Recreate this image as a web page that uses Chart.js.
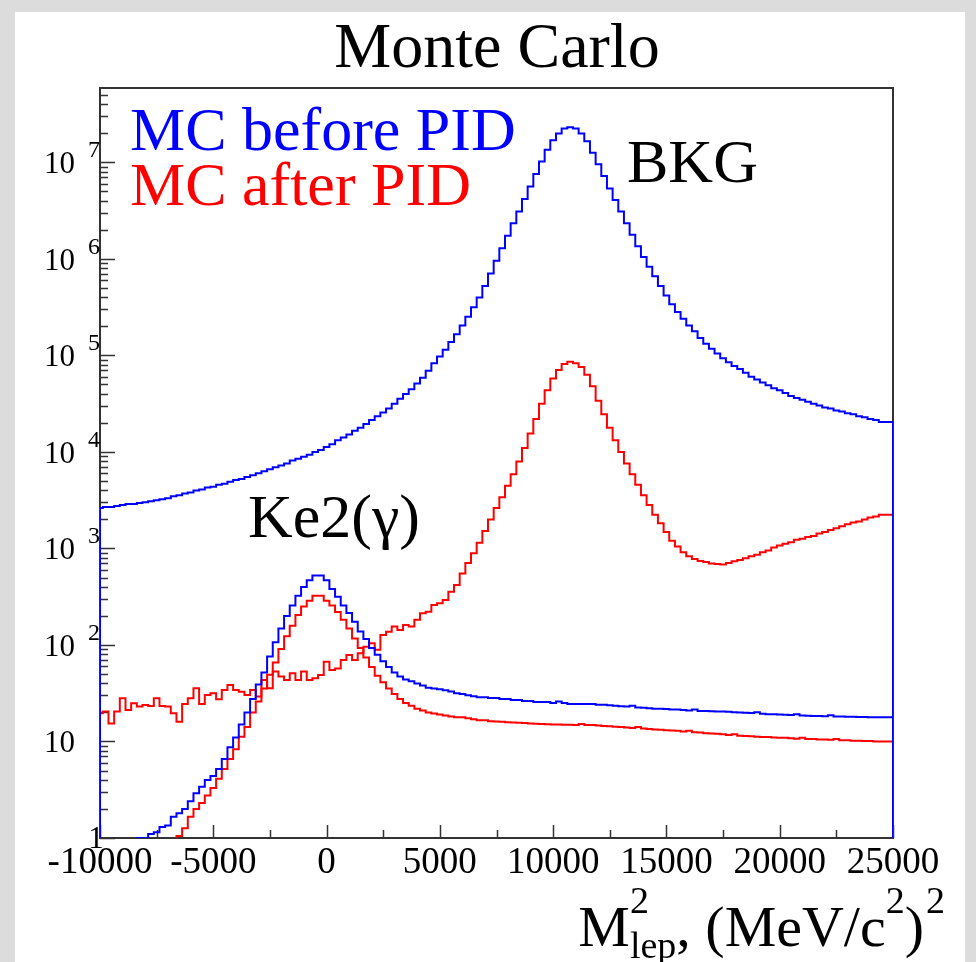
<!DOCTYPE html>
<html>
<head>
<meta charset="utf-8">
<script src="https://cdn.jsdelivr.net/npm/chart.js@4.4.1/dist/chart.umd.min.js"></script>
<style>
  html, body { margin: 0; padding: 0; background: #dcdcdc; }
  canvas { display: block; }
</style>
</head>
<body>
<canvas id="chart" width="976" height="962" style="width:976px;height:962px"></canvas>
<script>
// ── Data (bins of 250, starting at -10000) ─────────────────
const xMin = -10000;
const xMax = 25000;
const binWidth = 250;

// BKG, MC before PID (blue)
const bkgBefore = [
  2570, 2630, 2690, 2690, 2750, 2820, 2880, 2880, 2950, 3020,
  3090, 3160, 3240, 3310, 3470, 3550, 3720, 3800, 3980, 4070,
  4270, 4370, 4570, 4680, 4900, 5130, 5250, 5500, 5750, 6030,
  6310, 6610, 6920, 7240, 7590, 8130, 8510, 8910, 9330, 10000,
  10470, 11220, 12020, 13180, 14130, 15140, 16600, 17780, 19500, 21380,
  23440, 25700, 28180, 31620, 35480, 39810, 44670, 51290, 58880, 69180,
  83180, 97720, 114800, 138000, 166000, 204200, 251200, 316200, 398100, 524800,
  707900, 955000, 1288000, 1738000, 2344000, 3090000, 4169000, 5623000, 7586000, 10230000,
  13490000, 16980000, 19950000, 22390000, 23170000, 22390000, 19950000, 16600000, 12590000, 9550000,
  7244000, 5370000, 4074000, 3090000, 2344000, 1778000, 1349000, 1047000, 831800, 660700,
  524800, 416900, 338800, 281800, 239900, 204200, 177800, 151400, 131800, 117500,
  104700, 93330, 85110, 77620, 72440, 66070, 60260, 56230, 52480, 48980,
  45710, 43650, 40740, 38020, 36310, 34670, 33110, 31620, 30200, 28840,
  28180, 26920, 26300, 25120, 24550, 23440, 22910, 21880, 21380, 20420,
];

// BKG, MC after PID (red)
const bkgAfter = [
  20.4, 19.6, 20.4, 15.4, 20.4, 28, 21.2, 24.9, 23, 23.9,
  23.3, 28, 23.3, 23, 19.6, 16, 24.5, 28, 35.6, 24.5,
  30.3, 31.6, 27.4, 34.2, 38.5, 34.2, 32.8, 30.3, 34.2, 29.2,
  43.4, 35.6, 53, 47, 43.4, 50.8, 43.4, 53, 43.4, 45.2,
  48.9, 67, 55, 57, 70, 78.7, 70, 82, 96, 104,
  89, 127, 137, 155, 143, 161, 155, 182, 213, 221,
  260, 270, 293, 357, 419, 550, 708, 891, 1148, 1514,
  1995, 2630, 3390, 4470, 5890, 7940, 10960, 15490, 21880, 31620,
  43650, 57540, 70790, 81280, 86100, 83180, 75860, 63100, 47860, 33880,
  24550, 17780, 13180, 10000, 7590, 5890, 4570, 3550, 2820, 2240,
  1820, 1480, 1200, 1047, 912, 832, 776, 741, 724, 700,
  692, 680, 708, 735, 759, 794, 832, 860, 912, 955,
  1023, 1072, 1122, 1160, 1230, 1259, 1318, 1349, 1430, 1479,
  1549, 1622, 1698, 1778, 1862, 1905, 1995, 2089, 2138, 2239,
];

// Ke2(gamma), MC before PID (blue)
const ke2Before = [
  0, 0, 0, 0, 0, 0, 0, 0, 1, 1,
  1.1, 1.15, 1.3, 1.35, 1.66, 1.8, 2.0, 2.4, 2.9, 3.4,
  4.0, 4.4, 5.2, 6.6, 8.7, 11, 15, 20, 27.5, 39,
  52, 76, 107, 148, 200, 257, 324, 398, 468, 525,
  525, 468, 380, 316, 257, 214, 174, 138, 115, 93,
  79, 68, 59, 52, 47, 44, 42, 40, 38, 36,
  35.5, 34.7, 33.9, 33, 31.6, 31, 30.2, 29.5, 28.8, 28.8,
  28.2, 28.2, 27.5, 27.5, 26.9, 26.9, 26.3, 26.3, 25.7, 25.7,
  25.7, 25.1, 25.9, 25.1, 24.5, 24.5, 24.5, 24.5, 24.5, 24,
  24, 23.7, 23.4, 23.2, 23, 23.4, 22.5, 22.3, 22.1, 21.9,
  21.9, 21.7, 21.5, 21.4, 21.2, 21, 21.5, 20.7, 20.7, 20.6,
  20.5, 20.4, 20.3, 20.1, 20, 19.8, 19.7, 20.1, 19.4, 19.2,
  19.1, 19, 18.9, 18.8, 19.2, 18.6, 18.5, 18.4, 18.4, 18.3,
  18.7, 18.1, 18.1, 18, 18, 17.9, 17.9, 17.8, 17.8, 17.8,
];

// Ke2(gamma), MC after PID (red)
const ke2After = [
  0, 0, 0, 0, 0, 0, 0, 0, 0, 0,
  0, 0, 0, 0, 0, 1.05, 1.26, 1.66, 2.0, 2.3,
  2.75, 3.3, 4.1, 5.2, 6.6, 8.3, 11.2, 14.1, 20, 26,
  35.5, 49, 66, 91, 123, 158, 204, 251, 288, 324,
  324, 288, 257, 219, 182, 148, 117, 93, 74, 59,
  48, 41, 35.5, 31, 27.5, 25, 23.4, 21.9, 20.9, 20,
  19.5, 19, 18.6, 18.2, 17.8, 17.8, 17.4, 17, 16.6, 16.6,
  16.2, 16.1, 16, 15.8, 15.7, 15.6, 15.5, 15.4, 15.3, 15.2,
  15.1, 15.0, 15.0, 14.9, 14.9, 14.8, 15.2, 14.8, 14.8, 14.6,
  14.5, 14.4, 14.2, 14.1, 14, 13.8, 14.1, 13.6, 13.5, 13.3,
  13.2, 13.1, 13, 12.9, 12.7, 12.9, 12.5, 12.4, 12.2, 12.1,
  12, 11.9, 11.7, 11.9, 11.5, 11.4, 11.3, 11.2, 11.1, 11.1,
  11.0, 10.9, 10.9, 10.8, 10.7, 10.9, 10.6, 10.6, 10.5, 10.5,
  10.4, 10.6, 10.3, 10.3, 10.2, 10.2, 10.1, 10.1, 10.0, 10.0,
];

// ── Axes / labels ──────────────────────────────────────────
const xTickValues = [-10000, -5000, 0, 5000, 10000, 15000, 20000, 25000];
const xTickLabels = ["-10000", "-5000", "0", "5000", "10000", "15000", "20000", "25000"];
const xMinorStep = 2500;
const yDecades = [0, 1, 2, 3, 4, 5, 6, 7];
const yMin = 1;
const yMax = 5.9e7;

const titleText = "Monte Carlo";
const legendBefore = "MC before PID";
const legendAfter = "MC after PID";
const bkgLabel = "BKG";
const ke2Label = "Ke2(\u03b3)";

const BLUE = "#0000ff";
const RED = "#ff0000";
const SERIF = "'Liberation Serif', 'DejaVu Serif', serif";
const FLOOR = 0.1; // empty bins sit under the axis (log scale)

// ── Helpers ────────────────────────────────────────────────
// histogram outline: rises from the floor at xMin, drops back at xMax
function histPoints(values) {
  const pts = [{ x: xMin, y: FLOOR }];
  values.forEach((v, i) => {
    const x = i === 0 ? xMin : xMin - binWidth / 2 + i * binWidth;
    pts.push({ x, y: v > 0 ? v : FLOOR });
  });
  const last = values[values.length - 1];
  pts.push({ x: xMax, y: last > 0 ? last : FLOOR });
  pts.push({ x: xMax, y: FLOOR });
  return pts;
}

function hist(values, color) {
  return {
    data: histPoints(values),
    borderColor: color,
    borderWidth: 2,
    stepped: "after",
    fill: false,
    pointRadius: 0,
    tension: 0,
  };
}

function font(px) {
  return px + "px " + SERIF;
}

// ── ROOT-like frame, ticks and texts ───────────────────────
const rootStyle = {
  id: "rootStyle",
  beforeDraw(chart) {
    const c = chart.ctx;
    c.save();
    c.fillStyle = "#dcdcdc";
    c.fillRect(0, 0, chart.width, chart.height);
    c.fillStyle = "#ffffff";
    c.fillRect(15, 12, 950, chart.height - 12);
    c.restore();
  },
  beforeDatasetsDraw(chart) {
    const c = chart.ctx;
    const { left, right, top, bottom } = chart.chartArea;
    const xs = chart.scales.x;
    const ys = chart.scales.y;
    c.save();
    c.strokeStyle = "#333";
    c.lineWidth = 2;
    c.strokeRect(left, top, right - left, bottom - top);

    // x ticks (inside, from the bottom)
    c.lineWidth = 1.5;
    c.beginPath();
    for (let v = xMin; v <= xMax; v += xMinorStep) {
      const px = Math.round(xs.getPixelForValue(v)) + 0.5;
      const len = v % 5000 === 0 ? 13 : 8;
      c.moveTo(px, bottom);
      c.lineTo(px, bottom - len);
    }
    // y ticks (inside, from the left)
    yDecades.forEach((k) => {
      for (let m = 1; m <= 9; m++) {
        const v = m * Math.pow(10, k);
        if (v > yMax) break;
        const py = Math.round(ys.getPixelForValue(v)) + 0.5;
        const len = m === 1 ? 15 : 8;
        c.moveTo(left, py);
        c.lineTo(left + len, py);
      }
    });
    c.stroke();
    c.restore();
  },
  afterDraw(chart) {
    const c = chart.ctx;
    const { left, bottom } = chart.chartArea;
    const xs = chart.scales.x;
    const ys = chart.scales.y;
    c.save();
    c.fillStyle = "#000";

    // x tick labels
    c.font = font(37);
    c.textAlign = "center";
    c.textBaseline = "alphabetic";
    xTickValues.forEach((v, i) => {
      c.fillText(xTickLabels[i], xs.getPixelForValue(v), bottom + 35);
    });

    // y tick labels: 10 with exponent
    yDecades.forEach((k) => {
      const py = ys.getPixelForValue(Math.pow(10, k));
      if (k === 0) {
        c.font = font(31);
        c.textAlign = "center";
        c.fillText("1", left - 4, py + 10);
        return;
      }
      c.font = font(31);
      c.textAlign = "right";
      c.fillText("10", left - 25, py + 11);
      if (k > 1) {
        c.font = font(24);
        c.textAlign = "left";
        c.fillText(String(k), left - 12, py - 5);
      }
    });

    // title
    c.font = font(64);
    c.textAlign = "center";
    c.fillText(titleText, 497, 67);

    // legend-like texts
    c.font = font(62);
    c.textAlign = "left";
    c.fillStyle = BLUE;
    c.fillText(legendBefore, 130, 150);
    c.fillStyle = RED;
    c.fillText(legendAfter, 130, 205);
    c.fillStyle = "#000";
    c.fillText(bkgLabel, 627, 182);
    c.fillText(ke2Label, 248, 537);

    // axis title  M^2_lep, (MeV/c^2)^2  ending under the right label
    const big = 58, small = 38;
    const base = 946;
    const runs = [
      { t: "M", s: big, dy: 0 },
      { t: "2", s: small, dy: -33, stack: "lep" },
      { t: ", (MeV/c", s: big, dy: 0 },
      { t: "2", s: small, dy: -33 },
      { t: ")", s: big, dy: 0 },
      { t: "2", s: small, dy: -33 },
    ];
    let total = 0;
    runs.forEach((r) => {
      c.font = font(r.s);
      let w = c.measureText(r.t).width;
      if (r.stack) w = Math.max(w, c.measureText(r.stack).width);
      r.w = w;
      total += w + (r.t === ")" ? 2 : 0);
    });
    let x = 945 - total;
    c.textAlign = "left";
    runs.forEach((r) => {
      c.font = font(r.s);
      c.fillText(r.t, x, base + r.dy);
      if (r.stack) c.fillText(r.stack, x, base + 12);
      x += r.w + (r.t === ")" ? 2 : 0);
    });
    c.restore();
  },
};

// ── Chart ──────────────────────────────────────────────────
new Chart(document.getElementById("chart").getContext("2d"), {
  type: "line",
  data: {
    datasets: [
      hist(bkgBefore, BLUE),
      hist(ke2Before, BLUE),
      hist(bkgAfter, RED),
      hist(ke2After, RED),
    ],
  },
  options: {
    responsive: false,
    animation: false,
    layout: { padding: { left: 100, right: 83, top: 88, bottom: 124 } },
    plugins: {
      legend: { display: false },
      tooltip: { enabled: false },
      title: { display: false },
    },
    scales: {
      x: { type: "linear", min: xMin, max: xMax, display: false },
      y: { type: "logarithmic", min: yMin, max: yMax, display: false },
    },
  },
  plugins: [rootStyle],
});
</script>
</body>
</html>
